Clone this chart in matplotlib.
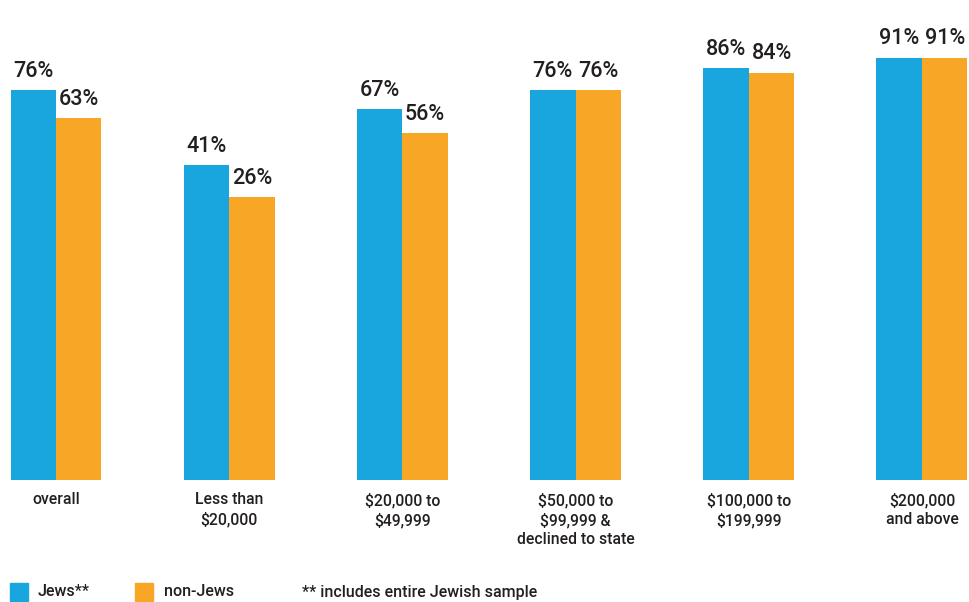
import matplotlib.pyplot as plt
from matplotlib.patches import Rectangle
import numpy as np

categories = ["overall", "Less than\n$20,000", "$20,000 to\n$49,999",
              "$50,000 to\n$99,999 &\ndeclined to state", "$100,000 to\n$199,999",
              "$200,000\nand above"]
jews = [76, 41, 67, 76, 86, 91]
non_jews = [63, 26, 56, 76, 84, 91]

BLUE = "#19A5DD"
ORANGE = "#F8A626"
TEXT = "#231F20"
plt.rcParams['font.family'] = ['Roboto', 'DejaVu Sans']
plt.rcParams['font.weight'] = 'medium'

W, H = 970, 602
fig = plt.figure(figsize=(W / 100, H / 100), dpi=100)

# axis baseline sits at y=480 px, spans the full width
ax = fig.add_axes([0, (H - 480) / H, 1, 480 / H])
step = 173.2
y0 = -105.4
ax.set_xlim(-56 / step, (W - 56) / step)
ax.set_ylim(y0, y0 + 480 / 2.15)
ax.axis("off")

x = np.arange(len(categories))
w = 45.5 / step
jv = np.array(jews)
nv = np.array(non_jews)
ax.bar(x - w / 2, jv - y0, bottom=y0, width=w, color=BLUE, linewidth=0)
ax.bar(x + w / 2, nv - y0, bottom=y0, width=w, color=ORANGE, linewidth=0)

for xi, a, b in zip(x, jews, non_jews):
    ax.annotate(f"{a}%", (xi - w / 2, a), xytext=(0, 6), textcoords="offset points",
                ha="center", va="bottom", fontsize=15.5, color=TEXT)
    ax.annotate(f"{b}%", (xi + w / 2, b), xytext=(0, 6), textcoords="offset points",
                ha="center", va="bottom", fontsize=15.5, color=TEXT)
    ax.annotate(categories[xi], (xi, y0), xytext=(0, -9), textcoords="offset points",
                ha="center", va="top", fontsize=11.3, color=TEXT, linespacing=1.35)

# legend along the bottom
fig.patches.append(Rectangle((10 / W, 1 - 601 / H), 18 / W, 18 / H,
                             transform=fig.transFigure, color=BLUE))
fig.patches.append(Rectangle((135 / W, 1 - 601 / H), 18 / W, 18 / H,
                             transform=fig.transFigure, color=ORANGE))
fig.text(38 / W, 1 - 592 / H, "Jews**", fontsize=11.5, color=TEXT, va="center")
fig.text(164 / W, 1 - 592 / H, "non-Jews", fontsize=11.5, color=TEXT, va="center")
fig.text(302 / W, 1 - 592 / H, "** includes entire Jewish sample", fontsize=11.5,
         color=TEXT, va="center")

fig.savefig("out.png", dpi=100, facecolor="white")
